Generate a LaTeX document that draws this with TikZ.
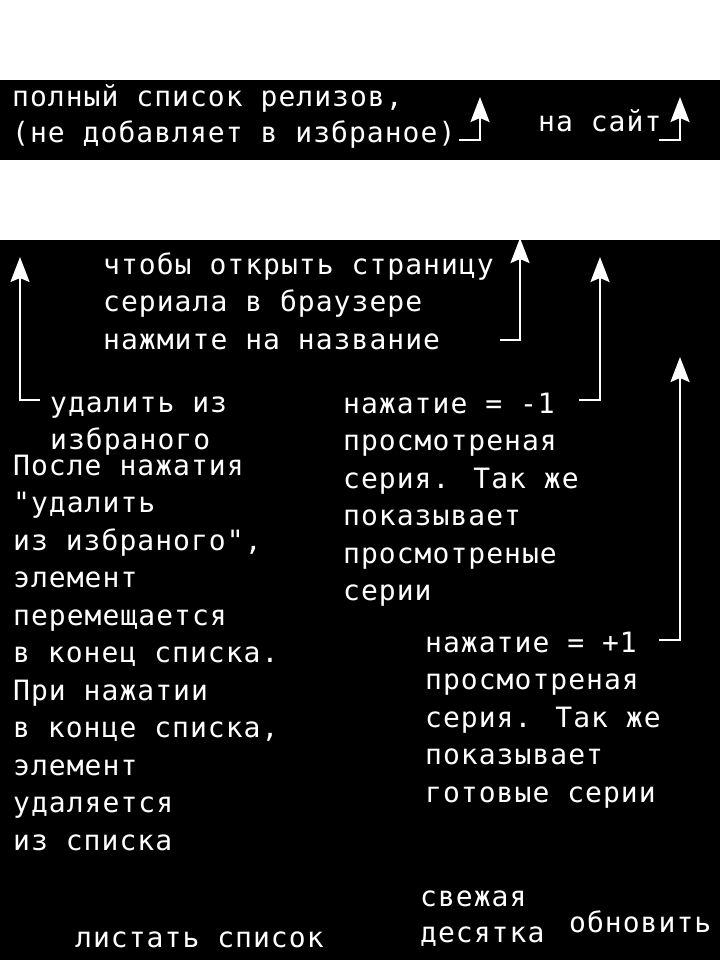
\documentclass[tikz,border=0pt]{standalone}
\usepackage{fontspec}
\newfontfamily\monof[LetterSpace=3.7]{DejaVu Sans Mono}
\usetikzlibrary{arrows.meta}
\begin{document}
\begin{tikzpicture}[x=1pt,y=-1pt,
  lbl/.style={anchor=base west,inner sep=0pt,text=white,align=left,
    font=\monof\fontsize{28}{37.5}\selectfont},
  arr/.style={draw=white,line width=2pt,
    -{Stealth[length=25pt,width=19pt,inset=4pt]}}]
\useasboundingbox (0,0) rectangle (720,960);
\fill[white] (0,0) rectangle (720,960);
\fill[black] (0,80) rectangle (720,160);
\fill[black] (0,240) rectangle (720,960);
% top band (anchors are at the baseline of the last line)
\node[lbl,font=\monof\fontsize{28}{36}\selectfont] (full) at (12,143) {полный список релизов,\\(не добавляет в избраное)};
\node[lbl] (site) at (538,132) {на сайт};
\coordinate (a1s) at (459,140); \coordinate (a1t) at (480,97);
\coordinate (a2s) at (659,140); \coordinate (a2t) at (680,97);
\draw[arr] (a1s) -| (a1t);
\draw[arr] (a2s) -| (a2t);
% main area
\node[lbl] (open) at (103,349) {чтобы открыть страницу\\сериала в браузере\\нажмите на название};
\node[lbl] (del) at (50,449.5) {удалить из\\избраного};
\node[lbl] (minus) at (343,600.5) {нажатие = -1\\просмотреная\\серия. Так же\\показывает\\просмотреные\\серии};
\node[lbl] (after) at (13,850) {После нажатия\\"удалить\\из избраного",\\элемент\\перемещается\\в конец списка.\\При нажатии\\в конце списка,\\элемент\\удаляется\\из списка};
\node[lbl] (plus) at (425,802) {нажатие = +1\\просмотреная\\серия. Так же\\показывает\\готовые серии};
\node[lbl] (scroll) at (75,947) {листать список};
\node[lbl,font=\monof\fontsize{28}{36}\selectfont] (fresh) at (420,942) {свежая\\десятка};
\node[lbl] (upd) at (569,932) {обновить};
\coordinate (a3s) at (40,400); \coordinate (a3t) at (20,257);
\coordinate (a4s) at (500,340); \coordinate (a4t) at (520,238);
\coordinate (a5s) at (579,400); \coordinate (a5t) at (600,257);
\coordinate (a6s) at (659,640); \coordinate (a6t) at (680,357);
\draw[arr] (a3s) -| (a3t);
\draw[arr] (a4s) -| (a4t);
\draw[arr] (a5s) -| (a5t);
\draw[arr] (a6s) -| (a6t);
\end{tikzpicture}
\end{document}
